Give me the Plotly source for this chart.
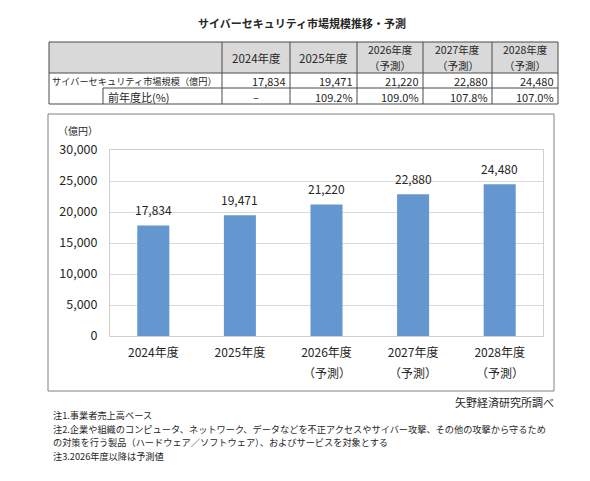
import plotly.graph_objects as go

# ---------------- data ----------------
categories = ["2024年度", "2025年度", "2026年度", "2027年度", "2028年度"]
forecast_flags = [False, False, True, True, True]
market_size = [17834, 19471, 21220, 22880, 24480]          # 億円
yoy_ratio = [None, 109.2, 109.0, 107.8, 107.0]             # %
y_ticks = [0, 5000, 10000, 15000, 20000, 25000, 30000]

title_text = "サイバーセキュリティ市場規模推移・予測"
row_label_size = "サイバーセキュリティ市場規模（億円）"
row_label_ratio = "前年度比(%)"
forecast_label = "（予測）"
unit_label = "（億円）"
source_label = "矢野経済研究所調べ"
notes = [
    "注1.事業者売上高ベース",
    "注2.企業や組織のコンピュータ、ネットワーク、データなどを不正アクセスやサイバー攻撃、その他の攻撃から守るため",
    "の対策を行う製品（ハードウェア／ソフトウェア）、およびサービスを対象とする",
    "注3.2026年度以降は予測値",
]

# ---------------- layout geometry (pixels) ----------------
W, H = 590, 481
PL, PR, PT, PB = 110, 543, 150, 336   # plot area edges
FONT = "Noto Sans CJK JP"
TXT = "#262626"
BAR = "#6497d0"


def px(x):
    return (x - PL) / (PR - PL)


def py(y):
    return (PB - y) / (PB - PT)


fig = go.Figure()
fig.add_trace(go.Bar(x=categories, y=market_size, marker_color=BAR,
                     marker_line_width=0, width=0.37, hoverinfo="x+y"))

shapes = []
annotations = []

# ---- title ----
annotations.append(dict(x=px(302), y=py(23), xref="paper", yref="paper",
                        text="<b>" + title_text + "</b>", showarrow=False,
                        font=dict(size=11, color=TXT, family=FONT),
                        xanchor="center", yanchor="middle"))

# ---- table ----
col_x = [49, 222, 290, 357, 423, 492, 558]
row_y = [42, 73, 88, 104]
split_x = 103
LINE = "#4a4a4a"


def seg(x0, y0, x1, y1, color=LINE, w=1):
    shapes.append(dict(type="line", xref="paper", yref="paper",
                       x0=px(x0), y0=py(y0), x1=px(x1), y1=py(y1),
                       line=dict(color=color, width=w), layer="above"))


shapes.append(dict(type="rect", xref="paper", yref="paper",
                   x0=px(col_x[0]), x1=px(col_x[-1]), y0=py(row_y[0]), y1=py(row_y[1]),
                   fillcolor="#d9d9d9", line=dict(width=0), layer="below"))
seg(col_x[0], row_y[0], col_x[-1], row_y[0])
seg(col_x[0], row_y[3], col_x[-1], row_y[3])
seg(col_x[0], row_y[1], col_x[-1], row_y[1])
seg(split_x, row_y[2], col_x[-1], row_y[2])
seg(col_x[0], row_y[0], col_x[0], row_y[3])
seg(col_x[-1], row_y[0], col_x[-1], row_y[3])
for cx in col_x[1:-1]:
    seg(cx, row_y[0], cx, row_y[3])
seg(split_x, row_y[2], split_x, row_y[3])


def label(x, y, text, size=12, xanchor="center", color=TXT):
    annotations.append(dict(x=px(x), y=py(y), xref="paper", yref="paper",
                            text=text, showarrow=False, borderpad=0,
                            font=dict(size=size, color=color, family=FONT),
                            xanchor=xanchor, yanchor="middle"))


for i, cat in enumerate(categories):
    cx0, cx1 = col_x[i + 1], col_x[i + 2]
    mid = (cx0 + cx1) / 2
    if forecast_flags[i]:
        label(mid, 49.8, cat, size=10.5)
        label(mid, 65.2, forecast_label, size=10.5)
    else:
        label(mid, 58, cat, size=11.5)
    label(cx1 - 3, 81, f"{market_size[i]:,}", size=11, xanchor="right")
    if yoy_ratio[i] is None:
        label(mid, 97, "–", size=11)
    else:
        label(cx1 - 3, 97, f"{yoy_ratio[i]:.1f}%", size=11, xanchor="right")

label(col_x[0] + 2, 81, row_label_size, size=9.2, xanchor="left")
label(split_x + 4, 97, row_label_ratio, size=11, xanchor="left")

# ---- chart frame ----
shapes.append(dict(type="rect", xref="paper", yref="paper",
                   x0=px(48), x1=px(554), y0=py(114), y1=py(391),
                   line=dict(color="#808080", width=1), fillcolor="rgba(0,0,0,0)",
                   layer="above"))

label(78, 130, unit_label, size=10)

# ---- bar value labels ----
for cat, v in zip(categories, market_size):
    annotations.append(dict(x=cat, y=v, xref="x", yref="y", text=f"{v:,}",
                            showarrow=False, yanchor="bottom", yshift=5,
                            font=dict(size=12, color=TXT, family=FONT)))

# ---- forecast sublabels under x ticks ----
for cat, f in zip(categories, forecast_flags):
    if f:
        annotations.append(dict(x=cat, y=py(372), xref="x", yref="paper",
                                text=forecast_label, showarrow=False,
                                yanchor="middle",
                                font=dict(size=12, color=TXT, family=FONT)))

# ---- source & notes ----
label(555, 402, source_label, size=11, xanchor="right")
for i, n in enumerate(notes):
    label(52, 415 + i * 13.5, n, size=9.2, xanchor="left")

fig.update_layout(
    width=W, height=H, autosize=False,
    margin=dict(l=PL, r=W - PR, t=PT, b=H - PB, pad=0),
    paper_bgcolor="white", plot_bgcolor="white",
    showlegend=False, bargap=0.63,
    font=dict(family=FONT, size=12, color=TXT),
    shapes=shapes, annotations=annotations,
)
fig.update_xaxes(type="category", showgrid=False, showline=True, mirror=True,
                 linecolor="#d0d0d0", linewidth=1, ticks="outside", ticklen=6,
                 tickcolor="rgba(0,0,0,0)", tickfont=dict(size=12, color=TXT, family=FONT),
                 fixedrange=True)
fig.update_yaxes(range=[0, 30000], tickvals=y_ticks, tickformat=",", showgrid=True,
                 gridcolor="#d9d9d9", gridwidth=1, zeroline=False, showline=True,
                 mirror=True, linecolor="#d0d0d0", linewidth=1, ticks="outside",
                 ticklen=9, tickcolor="rgba(0,0,0,0)",
                 tickfont=dict(size=12.5, color=TXT, family=FONT), fixedrange=True)

fig.write_html("out.html")
